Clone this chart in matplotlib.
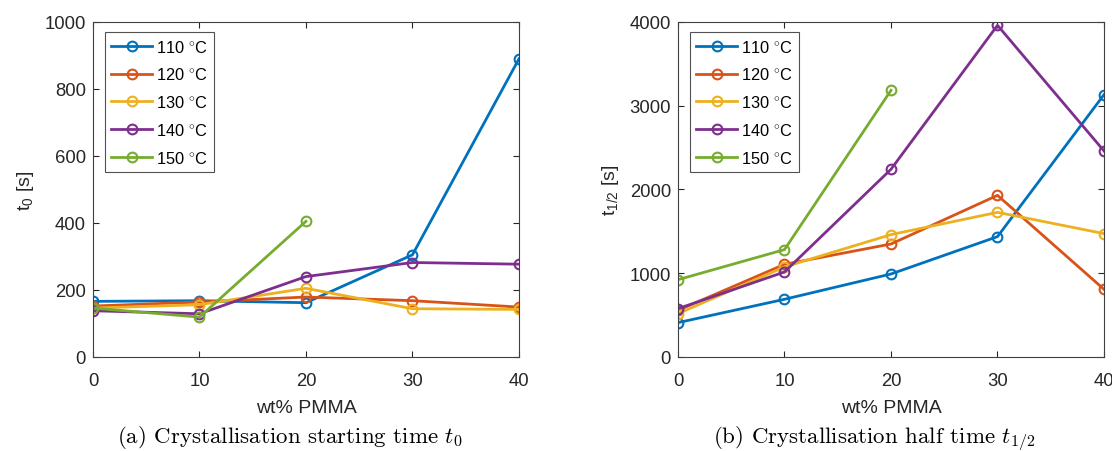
import numpy as np
import matplotlib
matplotlib.use('Agg')
import matplotlib.pyplot as plt

# data
wt = [0, 10, 20, 30, 40]
labels = ['110 $^{\\circ}$C', '120 $^{\\circ}$C', '130 $^{\\circ}$C', '140 $^{\\circ}$C', '150 $^{\\circ}$C']
t0_110 = [166, 168, 162, 305, 890]
t0_120 = [152, 164, 179, 168, 149]
t0_130 = [146, 156, 205, 144, 142]
t0_140 = [138, 129, 240, 282, 277]
t0_150 = [146, 119, 405]
th_110 = [410, 689, 991, 1437, 3132]
th_120 = [557, 1106, 1349, 1930, 808]
th_130 = [517, 1075, 1461, 1727, 1473]
th_140 = [577, 1015, 2241, 3960, 2460]
th_150 = [923, 1282, 3184]

colors = ['#0072BD', '#D95319', '#EDB120', '#7E2F8E', '#77AC30']

plt.rcParams['font.family'] = 'Liberation Sans'
plt.rcParams['mathtext.fontset'] = 'custom'
plt.rcParams['mathtext.rm'] = 'Liberation Sans'
plt.rcParams['mathtext.it'] = 'Liberation Sans:italic'
axcol = '#262626'

fig = plt.figure(figsize=(11.12, 4.52), dpi=100)
ax1 = fig.add_axes([0.0836, 0.208, 0.3831, 0.7412])
ax2 = fig.add_axes([0.6097, 0.208, 0.3831, 0.7412])

def draw(ax, series, ylim, yticks, ylabel):
    for s, c, lab in zip(series, colors, labels):
        ax.plot(wt[:len(s)], s, '-o', color=c, lw=2, ms=7, mfc='none', mew=1.5, label=lab)
    ax.set_xlim(0, 40)
    ax.set_ylim(*ylim)
    ax.set_xticks(wt)
    ax.set_yticks(yticks)
    ax.tick_params(direction='in', top=True, right=True, labelsize=13.3, colors=axcol, length=4)
    ax.tick_params(axis='x', pad=11)
    ax.tick_params(axis='y', pad=5)
    for sp in ax.spines.values():
        sp.set_color('#404040')
        sp.set_linewidth(0.8)
    ax.set_xlabel('wt% PMMA', fontsize=14, color=axcol, labelpad=7)
    ax.set_ylabel(ylabel, fontsize=14, color=axcol, labelpad=6)
    leg = ax.legend(loc='upper left', bbox_to_anchor=(0.028, 0.970), fontsize=11.8, frameon=True,
                    fancybox=False, edgecolor=axcol, handlelength=2.5, handletextpad=0.2,
                    labelspacing=0.72, borderpad=0.4, borderaxespad=0)
    leg.get_frame().set_linewidth(0.8)

draw(ax1, [t0_110, t0_120, t0_130, t0_140, t0_150], (0, 1000), [0, 200, 400, 600, 800, 1000], 't$_0$ [s]')
draw(ax2, [th_110, th_120, th_130, th_140, th_150], (0, 4000), [0, 1000, 2000, 3000, 4000], 't$_{1/2}$ [s]')

fig.text(0.2605, 0.02, '(a) Crystallisation starting time $t_0$', ha='center', va='baseline',
         fontsize=16.5, family='cmr10', math_fontfamily='cm')
fig.text(0.786, 0.02, '(b) Crystallisation half time $t_{1/2}$', ha='center', va='baseline',
         fontsize=16.5, family='cmr10', math_fontfamily='cm')

fig.savefig('out.png', dpi=100)
